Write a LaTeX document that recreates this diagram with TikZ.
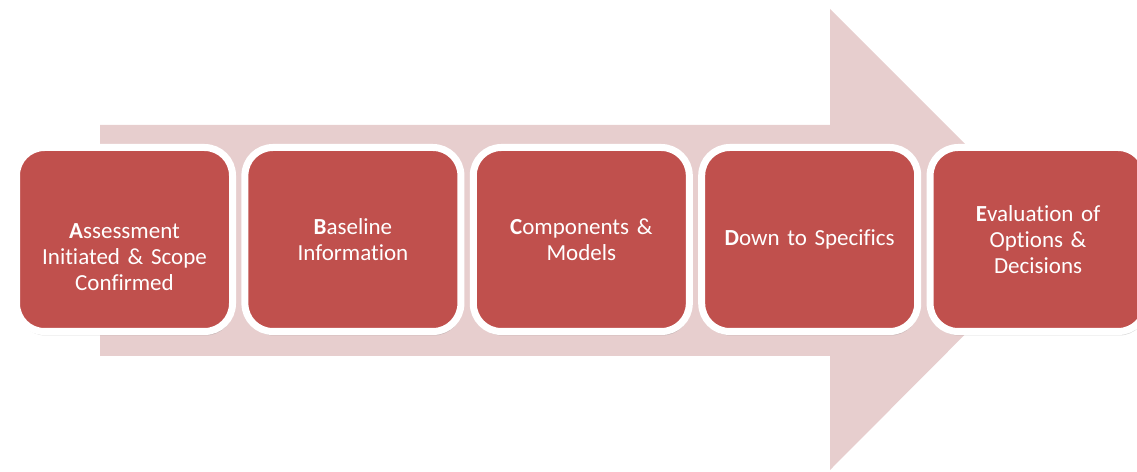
\documentclass[tikz,border=0pt]{standalone}
\usepackage{fontspec}
\setmainfont[Ligatures=NoCommon]{Carlito}
\usetikzlibrary{shadows}
\definecolor{stepred}{RGB}{192,80,77}
\definecolor{arrowpink}{RGB}{231,206,206}
\tikzset{
  stagetext/.style={text width=200pt, align=center, text=white, inner sep=0pt,
    font=\fontsize{23}{26}\selectfont},
  stage/.style={stagetext, draw=white, line width=7pt, fill=stepred,
    rounded corners=28pt, minimum width=216pt, minimum height=184pt,
    drop shadow={opacity=0.3, shadow xshift=1pt, shadow yshift=-4pt}}
}
\begin{document}
\begin{tikzpicture}[x=1pt,y=1pt]
  \useasboundingbox (0,0) rectangle (1137,471);
  \fill[arrowpink] (100,115) -- (100,346) -- (830,346) -- (830,462)
    -- (1060,232) -- (830,1) -- (830,115) -- cycle;

  \node[stage] (assess) at (124.5,231.5) {};
  \node[stagetext] (assesstext) at ([yshift=-18pt]assess.center)
    {\textbf{A}ssessment\\Initiated \& Scope\\Confirmed};
  \node[stage] (baseline) at (352.9,231.5) {\textbf{B}aseline\\Information};
  \node[stage] (comp) at (581.3,231.5) {\textbf{C}omponents \&\\Models};
  \node[stage] (down) at (809.7,231.5) {\textbf{D}own to Specifics};
  \node[stage] (eval) at (1038.1,231.5) {\textbf{E}valuation of\\Options \&\\Decisions};
\end{tikzpicture}
\end{document}
